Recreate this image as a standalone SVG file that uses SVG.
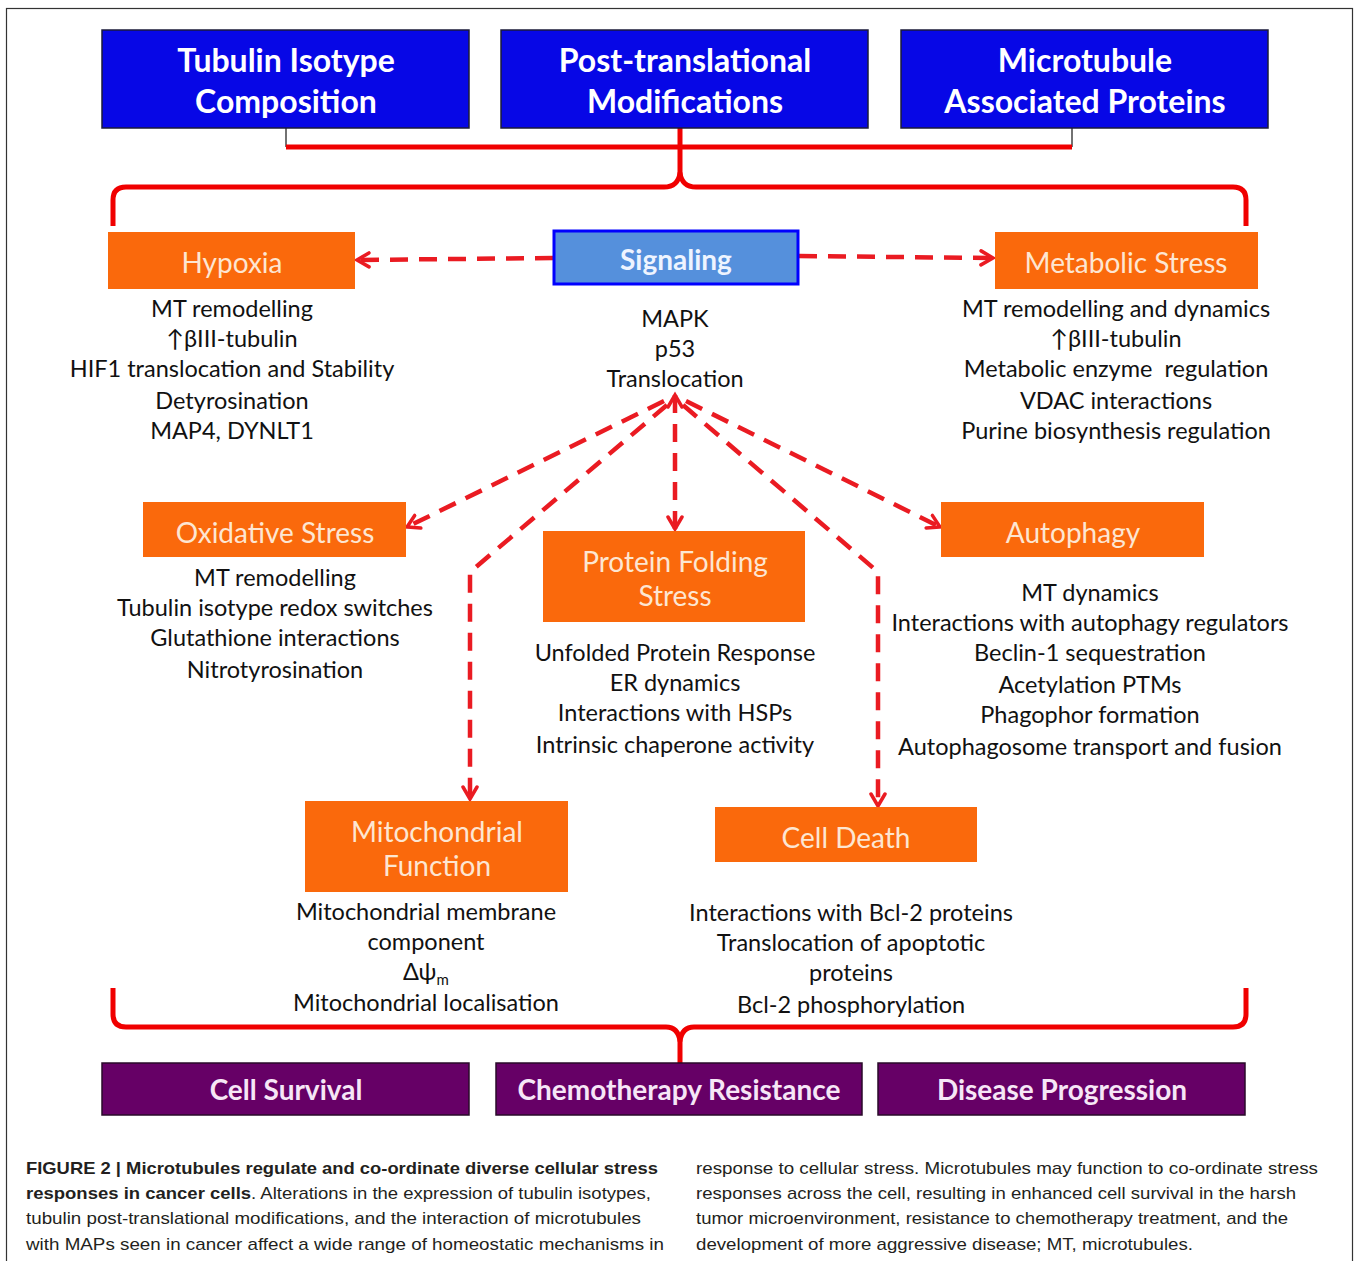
<svg xmlns="http://www.w3.org/2000/svg" width="1354" height="1261" viewBox="0 0 1354 1261">
<style>
.top{fill:#0707e6;stroke:#1b1b3a;stroke-width:1.5}
.org{fill:#fa690c}
.pur{fill:#660066;stroke:#2a0a2a;stroke-width:1.5}
.sig{fill:#5590dc;stroke:#0000ff;stroke-width:3}
.tt{font-family:Lato,"Open Sans",sans-serif;font-weight:bold;font-size:32px;fill:#ffffff;text-anchor:middle}
.ot{font-family:Lato,"Open Sans",sans-serif;font-size:28px;fill:#fde6d2;text-anchor:middle}
.pt{font-family:Lato,"Open Sans",sans-serif;font-weight:bold;font-size:28px;fill:#f6e6f6;text-anchor:middle}
.lt{font-family:Lato,"Open Sans",sans-serif;font-size:23.5px;fill:#111;text-anchor:middle}
.cap{font-family:"Liberation Sans",Arial,sans-serif;font-size:17px;fill:#231f20}
.b{font-weight:bold}
.brace{fill:none;stroke:#f00000;stroke-width:5;stroke-linejoin:round}
.dash{fill:none;stroke:#ea1b22;stroke-width:4.5;stroke-dasharray:18 11}
</style>
<defs>
<marker id="ah" markerUnits="userSpaceOnUse" markerWidth="20" markerHeight="20" refX="14" refY="8" orient="auto-start-reverse" viewBox="0 0 20 16">
<path d="M2,1 L14,8 L2,15" fill="none" stroke="#ea1b22" stroke-width="3.5" stroke-linecap="round"/>
</marker>
</defs>
<rect x="6.5" y="8.5" width="1346" height="1270" fill="#fff" stroke="#333" stroke-width="1.2"/>

<g id="connectors">
<path d="M286,128 V147 M1072,128 V147" stroke="#444" stroke-width="1.5" fill="none"/>
<path class="brace" d="M286,147 H1072"/>
<path class="brace" d="M680,128 V176"/>
<path class="brace" d="M113,226 V200 Q113,187 126,187 H664 Q678,187 680,173 Q682,187 696,187 H1233 Q1246,187 1246,200 V226"/>
<path class="brace" d="M113,988 V1014 Q113,1027 126,1027 H666 Q678,1027 680,1041 Q682,1027 694,1027 H1233 Q1246,1027 1246,1014 V988"/>
<path class="brace" d="M680,1038 V1063"/>
<path class="dash" d="M553,258 L357,260" marker-end="url(#ah)"/>
<path class="dash" d="M799,256 L993,258" marker-end="url(#ah)"/>
<path class="dash" d="M675,395 V529" marker-start="url(#ah)" marker-end="url(#ah)"/>
<path class="dash" d="M664,401 L407,527" marker-end="url(#ah)"/>
<path class="dash" d="M667,405 L470,572 V799" marker-end="url(#ah)"/>
<path class="dash" d="M686,401 L940,527" marker-end="url(#ah)"/>
<path class="dash" d="M683,405 L878,572 V806" marker-end="url(#ah)"/>
</g>

<g id="tubulin"><rect class="top" x="102" y="30" width="367" height="98"/><text class="tt" x="286" y="72">Tubulin Isotype</text><text class="tt" x="286" y="113">Composition</text></g>
<g id="ptm"><rect class="top" x="501" y="30" width="367" height="98"/><text class="tt" x="685" y="72">Post-translational</text><text class="tt" x="685" y="113">Modifications</text></g>
<g id="map"><rect class="top" x="901" y="30" width="367" height="98"/><text class="tt" x="1085" y="72">Microtubule</text><text class="tt" x="1085" y="113">Associated Proteins</text></g>

<g id="hypoxia"><rect class="org" x="108" y="232" width="247" height="57"/><text class="ot" x="232" y="273">Hypoxia</text>
<text class="lt" x="232" y="317">MT remodelling</text><text class="lt" x="232" y="347">↑βIII-tubulin</text><text class="lt" x="232" y="377">HIF1 translocation and Stability</text><text class="lt" x="232" y="409">Detyrosination</text><text class="lt" x="232" y="439">MAP4, DYNLT1</text></g>

<g id="signaling"><rect class="sig" x="554" y="231" width="244" height="53"/><text class="tt" style="font-size:28px;fill:#eef4ff" x="676" y="270">Signaling</text>
<text class="lt" x="675" y="327">MAPK</text><text class="lt" x="675" y="357">p53</text><text class="lt" x="675" y="387">Translocation</text></g>

<g id="metabolic"><rect class="org" x="995" y="232" width="263" height="57"/><text class="ot" x="1126" y="273">Metabolic Stress</text>
<text class="lt" x="1116" y="317">MT remodelling and dynamics</text><text class="lt" x="1116" y="347">↑βIII-tubulin</text><text class="lt" x="1116" y="377" xml:space="preserve">Metabolic enzyme  regulation</text><text class="lt" x="1116" y="409">VDAC interactions</text><text class="lt" x="1116" y="439">Purine biosynthesis regulation</text></g>

<g id="oxidative"><rect class="org" x="143" y="502" width="263" height="55"/><text class="ot" x="275" y="543">Oxidative Stress</text>
<text class="lt" x="275" y="586">MT remodelling</text><text class="lt" x="275" y="616">Tubulin isotype redox switches</text><text class="lt" x="275" y="646">Glutathione interactions</text><text class="lt" x="275" y="678">Nitrotyrosination</text></g>

<g id="protein"><rect class="org" x="543" y="531" width="262" height="91"/><text class="ot" x="675" y="572">Protein Folding</text><text class="ot" x="675" y="606">Stress</text>
<text class="lt" x="675" y="661">Unfolded Protein Response</text><text class="lt" x="675" y="691">ER dynamics</text><text class="lt" x="675" y="721">Interactions with HSPs</text><text class="lt" x="675" y="753">Intrinsic chaperone activity</text></g>

<g id="autophagy"><rect class="org" x="941" y="502" width="263" height="55"/><text class="ot" x="1073" y="543">Autophagy</text>
<text class="lt" x="1090" y="601">MT dynamics</text><text class="lt" x="1090" y="631">Interactions with autophagy regulators</text><text class="lt" x="1090" y="661">Beclin-1 sequestration</text><text class="lt" x="1090" y="693">Acetylation PTMs</text><text class="lt" x="1090" y="723">Phagophor formation</text><text class="lt" x="1090" y="755">Autophagosome transport and fusion</text></g>

<g id="mitochondrial"><rect class="org" x="305" y="801" width="263" height="91"/><text class="ot" x="437" y="842">Mitochondrial</text><text class="ot" x="437" y="876">Function</text>
<text class="lt" x="426" y="920">Mitochondrial membrane</text><text class="lt" x="426" y="950">component</text><text class="lt" x="426" y="980">Δψ<tspan font-size="15" dy="5">m</tspan></text><text class="lt" x="426" y="1011">Mitochondrial localisation</text></g>

<g id="celldeath"><rect class="org" x="715" y="807" width="262" height="55"/><text class="ot" x="846" y="848">Cell Death</text>
<text class="lt" x="851" y="921">Interactions with Bcl-2 proteins</text><text class="lt" x="851" y="951">Translocation of apoptotic</text><text class="lt" x="851" y="981">proteins</text><text class="lt" x="851" y="1013">Bcl-2 phosphorylation</text></g>

<g id="survival"><rect class="pur" x="102" y="1063" width="367" height="52"/><text class="pt" x="286" y="1100">Cell Survival</text></g>
<g id="chemo"><rect class="pur" x="496" y="1063" width="366" height="52"/><text class="pt" x="679" y="1100">Chemotherapy Resistance</text></g>
<g id="disease"><rect class="pur" x="878" y="1063" width="367" height="52"/><text class="pt" x="1062" y="1100">Disease Progression</text></g>

<g id="caption">
<text class="cap b" x="26" y="1174" textLength="632" lengthAdjust="spacingAndGlyphs">FIGURE 2 | Microtubules regulate and co-ordinate diverse cellular stress</text>
<text class="cap" x="26" y="1199" textLength="625" lengthAdjust="spacingAndGlyphs"><tspan class="b">responses in cancer cells</tspan>. Alterations in the expression of tubulin isotypes,</text>
<text class="cap" x="26" y="1224" textLength="615" lengthAdjust="spacingAndGlyphs">tubulin post-translational modifications, and the interaction of microtubules</text>
<text class="cap" x="26" y="1250" textLength="638" lengthAdjust="spacingAndGlyphs">with MAPs seen in cancer affect a wide range of homeostatic mechanisms in</text>
<text class="cap" x="696" y="1174" textLength="622" lengthAdjust="spacingAndGlyphs">response to cellular stress. Microtubules may function to co-ordinate stress</text>
<text class="cap" x="696" y="1199" textLength="600" lengthAdjust="spacingAndGlyphs">responses across the cell, resulting in enhanced cell survival in the harsh</text>
<text class="cap" x="696" y="1224" textLength="592" lengthAdjust="spacingAndGlyphs">tumor microenvironment, resistance to chemotherapy treatment, and the</text>
<text class="cap" x="696" y="1250" textLength="497" lengthAdjust="spacingAndGlyphs">development of more aggressive disease; MT, microtubules.</text>
</g>
</svg>
